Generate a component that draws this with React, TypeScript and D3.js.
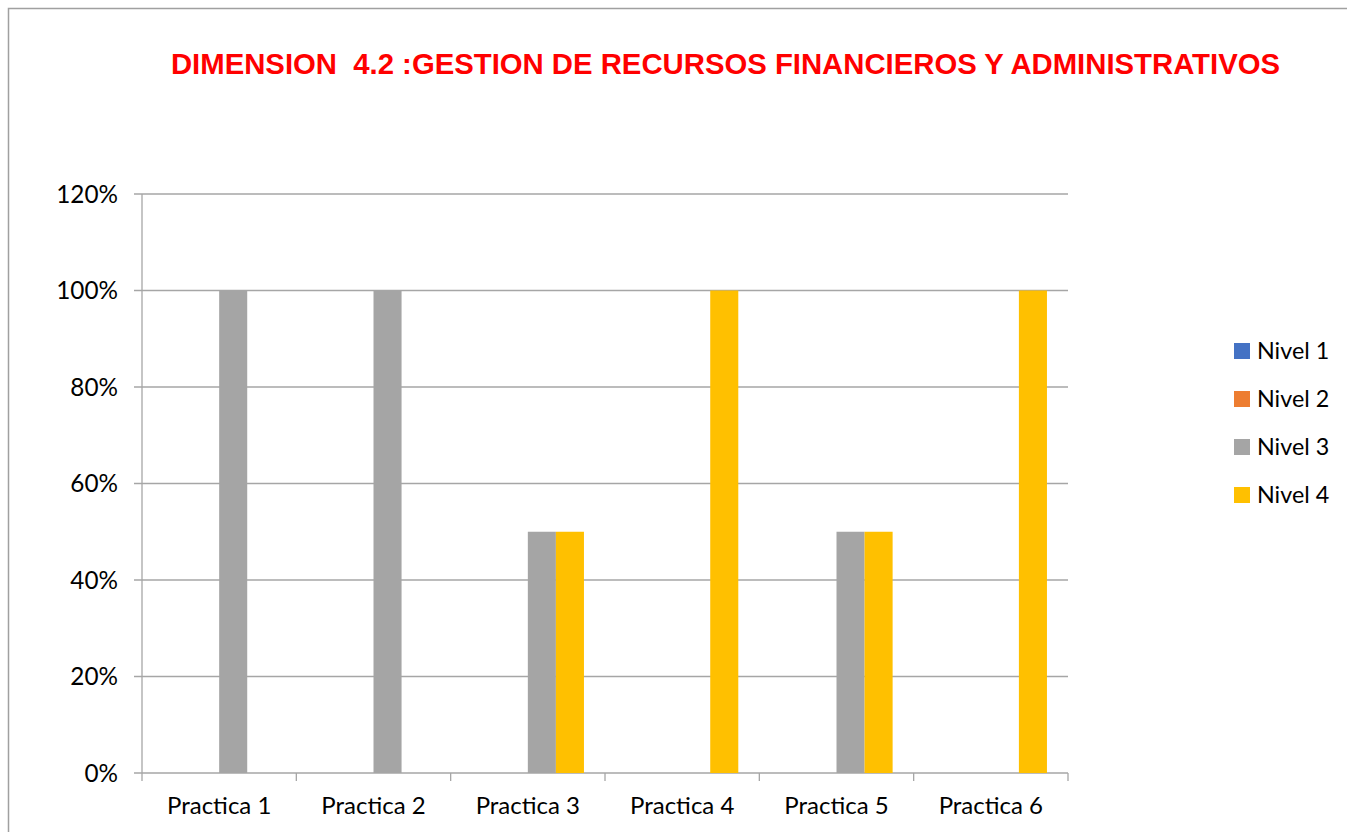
import React from "react";
import * as d3 from "d3";

const categories = ["Practica 1", "Practica 2", "Practica 3", "Practica 4", "Practica 5", "Practica 6"];
const seriesNames = ["Nivel 1", "Nivel 2", "Nivel 3", "Nivel 4"];
const nivel1 = [0, 0, 0, 0, 0, 0];
const nivel2 = [0, 0, 0, 0, 0, 0];
const nivel3 = [1, 1, 0.5, 0, 0.5, 0];
const nivel4 = [0, 0, 0.5, 1, 0.5, 1];
const yTicks = [0, 0.2, 0.4, 0.6, 0.8, 1.0, 1.2];
const colors = ["#4472C4", "#ED7D31", "#A5A5A5", "#FFC000"];
const title = "DIMENSION  4.2 :GESTION DE RECURSOS FINANCIEROS Y ADMINISTRATIVOS";

const W = 1347;
const H = 832;
const plot = { left: 142, right: 1068, top: 194, bottom: 773 };

export default function App() {
  const series = [nivel1, nivel2, nivel3, nivel4];
  const x0 = d3.scaleBand<string>().domain(categories).range([plot.left, plot.right]).paddingInner(0).paddingOuter(0);
  const bw = x0.bandwidth() / (seriesNames.length + 1.5);
  const y = d3.scaleLinear().domain([0, 1.2]).range([plot.bottom, plot.top]);
  const font = "Lato, 'Open Sans', sans-serif";

  return (
    <svg width={W} height={H} style={{ position: "absolute", left: 0, top: 0, background: "#fff" }}>
      <rect x={0} y={0} width={W} height={H} fill="#fff" />
      <rect x={8.5} y={8.5} width={W + 10} height={H + 10} fill="none" stroke="#A0A0A0" strokeWidth={1.5} />
      <text x={725.5} y={74} textAnchor="middle" fill="#FF0000" fontFamily="'Liberation Sans', Arial, sans-serif" fontWeight="bold" fontSize={29.3} style={{ whiteSpace: "pre" }}>
        {title}
      </text>
      {yTicks.map((t) => (
        <g key={t}>
          <line x1={plot.left - 8} x2={plot.right} y1={y(t)} y2={y(t)} stroke="#A6A6A6" strokeWidth={1.3} />
          <text x={118} y={y(t) + 8.5} textAnchor="end" fontFamily={font} fontSize={24.3} fill="#000">
            {Math.round(t * 100) + "%"}
          </text>
        </g>
      ))}
      <line x1={plot.left} x2={plot.left} y1={plot.top} y2={plot.bottom} stroke="#A6A6A6" strokeWidth={1.3} />
      {categories.map((c, i) => (
        <line key={"tk" + i} x1={x0(c)!} x2={x0(c)!} y1={plot.bottom} y2={plot.bottom + 8} stroke="#A6A6A6" strokeWidth={1.3} />
      ))}
      <line x1={plot.right} x2={plot.right} y1={plot.bottom} y2={plot.bottom + 8} stroke="#A6A6A6" strokeWidth={1.3} />
      {series.map((vals, s) =>
        vals.map((v, i) => {
          const cx = x0(categories[i])! + x0.bandwidth() / 2;
          const bx = cx + (s - 2) * bw;
          return v > 0 ? (
            <rect key={s + "-" + i} x={bx} y={y(v)} width={bw} height={y(0) - y(v)} fill={colors[s]} />
          ) : null;
        })
      )}
      {categories.map((c) => (
        <text key={c} x={x0(c)! + x0.bandwidth() / 2} y={814} textAnchor="middle" fontFamily={font} fontSize={24} fill="#000">
          {c}
        </text>
      ))}
      {seriesNames.map((n, i) => (
        <g key={n} transform={`translate(1234, ${351 + i * 48})`}>
          <rect x={0} y={-8} width={16} height={16} fill={colors[i]} />
          <text x={23} y={8} fontFamily={font} fontSize={23.3} fill="#000">
            {n}
          </text>
        </g>
      ))}
    </svg>
  );
}
